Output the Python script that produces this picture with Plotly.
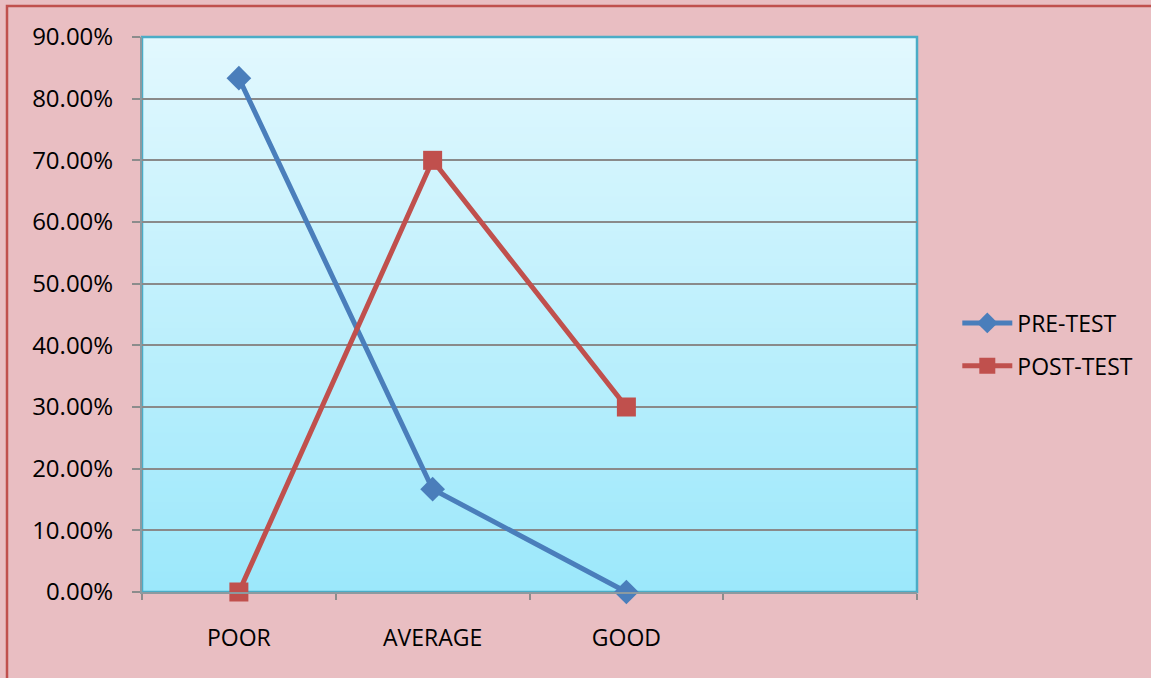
import plotly.graph_objects as go

# Category axis (the fourth slot is left empty)
categories = ["POOR", "AVERAGE", "GOOD"]
axis_slots = ["POOR", "AVERAGE", "GOOD", " "]

# Share of students in each grade band
pre_test = [0.8333, 0.1667, 0.0]
post_test = [0.0, 0.70, 0.30]

y_ticks = [0.0, 0.1, 0.2, 0.3, 0.4, 0.5, 0.6, 0.7, 0.8, 0.9]

BLUE = "#4a7ebb"
RED = "#c0504d"
FONT = "Open Sans"

fig = go.Figure()

fig.add_trace(go.Scatter(
    x=categories, y=pre_test, name="PRE-TEST", mode="lines+markers",
    legendgroup="pre",
    line=dict(color=BLUE, width=5),
    marker=dict(symbol="diamond", size=19, color=BLUE),
    cliponaxis=False,
))
fig.add_trace(go.Scatter(
    x=categories, y=post_test, name="POST-TEST", mode="lines+markers",
    legendgroup="post",
    line=dict(color=RED, width=5),
    marker=dict(symbol="square", size=19, color=RED),
    cliponaxis=False,
))

# Vertical light-cyan gradient behind the plot area, built from thin strips
top_rgb = (226, 248, 254)
bot_rgb = (156, 232, 251)
n_strips = 80
shapes = []
for i in range(n_strips):
    t = i / (n_strips - 1)
    r = round(bot_rgb[0] + (top_rgb[0] - bot_rgb[0]) * t)
    g = round(bot_rgb[1] + (top_rgb[1] - bot_rgb[1]) * t)
    b = round(bot_rgb[2] + (top_rgb[2] - bot_rgb[2]) * t)
    shapes.append(dict(
        type="rect", xref="x domain", yref="y domain",
        x0=0, x1=1, y0=i / n_strips, y1=(i + 1) / n_strips + 0.002,
        fillcolor=f"rgb({r},{g},{b})", line=dict(width=0), layer="below",
    ))
# Plot-area frame
shapes.append(dict(
    type="rect", xref="x domain", yref="y domain", x0=0, x1=1, y0=0, y1=1,
    line=dict(color="#4bacc6", width=2.5), fillcolor="rgba(0,0,0,0)", layer="below",
))
# Outer chart border (right and bottom edges fall outside the page)
shapes.append(dict(
    type="rect", xref="paper", yref="paper",
    x0=-142 / 775 + 7 / 775, x1=1 + 260 / 775,
    y0=-86 / 555 - 4 / 555, y1=1 + 31 / 555,
    line=dict(color=RED, width=2.5), fillcolor="rgba(0,0,0,0)", layer="below",
))

fig.update_layout(
    width=1151, height=678,
    margin=dict(l=142, r=234, t=37, b=86),
    paper_bgcolor="#e9bec2",
    plot_bgcolor="rgba(0,0,0,0)",
    font=dict(family=FONT, size=23, color="#000000"),
    shapes=shapes,
    showlegend=True,
    legend=dict(
        x=1.052, y=0.446, xanchor="left", yanchor="middle",
        bgcolor="rgba(0,0,0,0)", font=dict(family=FONT, size=23),
        itemwidth=50, traceorder="grouped", tracegroupgap=10,
    ),
    xaxis=dict(
        type="category", categoryorder="array", categoryarray=axis_slots,
        range=[-0.5, 3.5], tickson="boundaries",
        ticks="outside", ticklen=6, tickcolor="#8c8c8c", tickwidth=1.5,
        showline=True, linecolor="#8c9aa0", linewidth=2,
        showgrid=False, zeroline=False,
        tickfont=dict(family=FONT, size=23), ticklabelstandoff=24,
    ),
    yaxis=dict(
        range=[0, 0.9], tickvals=y_ticks, tickformat=".2%",
        ticks="outside", ticklen=8, tickcolor="#8c8c8c", tickwidth=1.5,
        showline=True, linecolor="#8c9aa0", linewidth=2,
        showgrid=True, gridcolor="#8a8a8a", gridwidth=2,
        zeroline=False, tickfont=dict(family=FONT, size=24),
        ticklabelstandoff=14,
    ),
)

fig.write_html("out.html")
